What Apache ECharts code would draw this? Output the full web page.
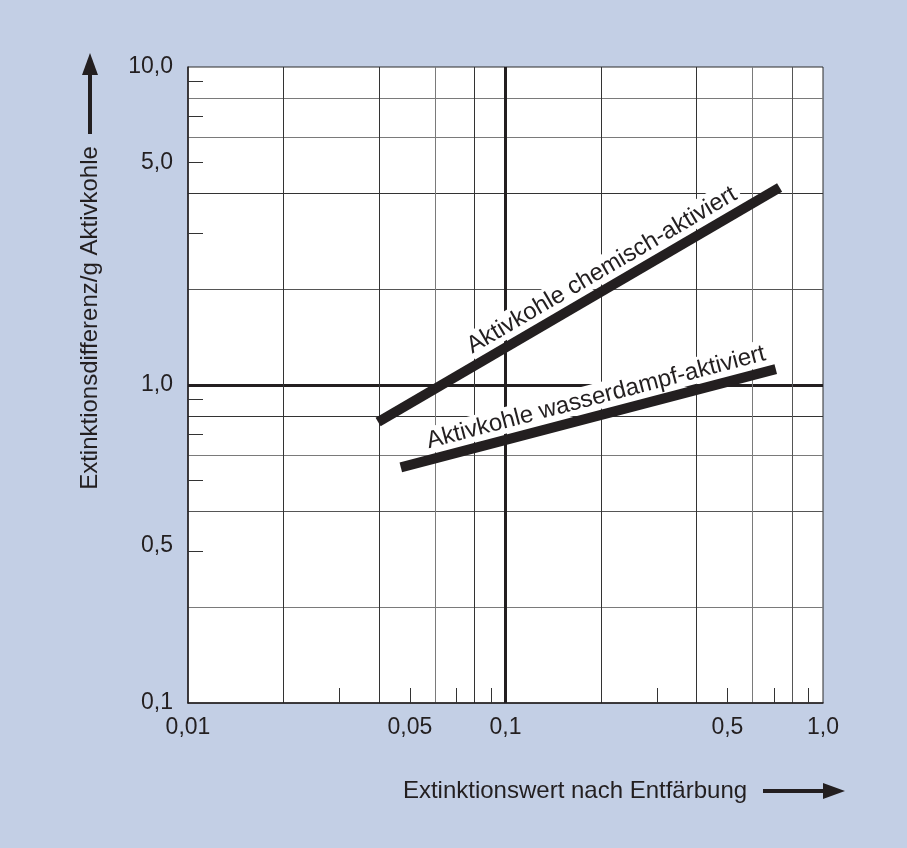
<!DOCTYPE html>
<html><head><meta charset="utf-8">
<script src="https://cdn.jsdelivr.net/npm/echarts@6/dist/echarts.min.js"></script>
<style>html,body{margin:0;padding:0;background:#c3cfe5}#c{width:907px;height:848px}</style>
</head><body><div id="c"></div>
<script>
// ---- data ----
const xGridValues  = [0.02, 0.04, 0.06, 0.08, 0.2, 0.4, 0.6, 0.8];
const xMinorTicks  = [0.03, 0.05, 0.07, 0.09, 0.3, 0.5, 0.7, 0.9];
const xLabelValues = [0.01, 0.05, 0.1, 0.5, 1];
const xTickLabels  = ['0,01', '0,05', '0,1', '0,5', '1,0'];
const yGridValues  = [0.2, 0.4, 0.6, 0.8, 2, 4, 6, 8];
const yMinorTicks  = [0.3, 0.5, 0.7, 0.9, 3, 5, 7, 9];
const yLabelValues = [0.1, 0.5, 1, 5, 10];
const yTickLabels  = ['0,1', '0,5', '1,0', '5,0', '10,0'];
const seriesNames  = ['Aktivkohle chemisch-aktiviert', 'Aktivkohle wasserdampf-aktiviert'];
const chemischX    = [0.0397, 0.730];
const chemischY    = [0.765, 4.18];
const wasserX      = [0.0468, 0.710];
const wasserY      = [0.551, 1.122];
const xTitle = 'Extinktionswert nach Entfärbung';
const yTitle = 'Extinktionsdifferenz/g Aktivkohle';

// ---- styling ----
const INK = '#231f20';
const FONT = 'Liberation Sans, Arial, Helvetica, sans-serif';
const DARK = '#333333', GREY = '#7a7a7a';

function lookup(vals, labels, v) {
  let best = 0, d = Infinity;
  vals.forEach((x, i) => { const dd = Math.abs(Math.log10(x) - Math.log10(v)); if (dd < d) { d = dd; best = i; } });
  return labels[best];
}
function lerpLog(a, b, t) { return Math.pow(10, Math.log10(a) + (Math.log10(b) - Math.log10(a)) * t); }
function textSegment(xs, ys, t0, t1, name) {
  return [[{ name: name, coord: [lerpLog(xs[0], xs[1], t0), lerpLog(ys[0], ys[1], t0)] },
           { coord: [lerpLog(xs[0], xs[1], t1), lerpLog(ys[0], ys[1], t1)] }]];
}
function textLabel(text) {
  return {
    show: true, position: 'insideMiddleTop', distance: 6, formatter: text,
    color: INK, fontFamily: FONT, fontSize: 24, opacity: 1,
    backgroundColor: '#fff', padding: [2, 4, 0, 4]
  };
}

const logAxisBase = { type: 'log', logBase: 10, gridIndex: 0 };

const chart = echarts.init(document.getElementById('c'), null, { renderer: 'canvas' });
chart.setOption({
  backgroundColor: '#c3cfe5',
  animation: false,
  grid: { left: 188, right: 84, top: 67, bottom: 145, show: true, backgroundColor: '#fff', borderColor: '#2b2b2b', borderWidth: 1 },
  xAxis: [
    Object.assign({}, logAxisBase, {
      min: xLabelValues[0], max: xLabelValues[xLabelValues.length - 1], position: 'bottom',
      axisLine: { show: true, lineStyle: { color: INK, width: 1.5 } },
      axisTick: { show: false, customValues: xGridValues },
      splitLine: { show: true, lineStyle: { color: [DARK, DARK, GREY, DARK, DARK, DARK, GREY, '#555'], width: 1 } },
      axisLabel: { customValues: xLabelValues, margin: 13, color: INK, fontFamily: FONT, fontSize: 23,
        formatter: v => lookup(xLabelValues, xTickLabels, v) }
    }),
    Object.assign({}, logAxisBase, {
      min: xLabelValues[0], max: xLabelValues[xLabelValues.length - 1], position: 'bottom',
      axisLine: { show: false },
      axisTick: { show: true, inside: true, length: 15, customValues: xMinorTicks, lineStyle: { color: DARK, width: 1 } },
      axisLabel: { show: false }, splitLine: { show: false }
    }),
    Object.assign({}, logAxisBase, {
      min: xLabelValues[0], max: xLabelValues[xLabelValues.length - 1], position: 'bottom',
      axisLine: { show: false }, axisLabel: { show: false },
      axisTick: { show: false, customValues: [xLabelValues[2]] },
      splitLine: { show: true, lineStyle: { color: INK, width: 3 } }
    })
  ],
  yAxis: [
    Object.assign({}, logAxisBase, {
      min: yLabelValues[0], max: yLabelValues[yLabelValues.length - 1], position: 'left',
      axisLine: { show: true, lineStyle: { color: INK, width: 1.5 } },
      axisTick: { show: false, customValues: yGridValues },
      splitLine: { show: true, lineStyle: { color: [GREY, '#555', GREY, DARK, '#555', DARK, GREY, GREY], width: 1 } },
      axisLabel: { customValues: yLabelValues, margin: 15, color: INK, fontFamily: FONT, fontSize: 23,
        formatter: v => { const s = lookup(yLabelValues, yTickLabels, v); return s === '0,5' ? '{low|' + s + '}' : s; },
        rich: { low: { padding: [130, 0, 0, 0], color: INK, fontFamily: FONT, fontSize: 23 } } }
    }),
    Object.assign({}, logAxisBase, {
      min: yLabelValues[0], max: yLabelValues[yLabelValues.length - 1], position: 'left',
      axisLine: { show: false },
      axisTick: { show: true, inside: true, length: 15, customValues: yMinorTicks, lineStyle: { color: DARK, width: 1 } },
      axisLabel: { show: false }, splitLine: { show: false }
    }),
    Object.assign({}, logAxisBase, {
      min: yLabelValues[0], max: yLabelValues[yLabelValues.length - 1], position: 'left',
      axisLine: { show: false }, axisLabel: { show: false },
      axisTick: { show: false, customValues: [yLabelValues[2]] },
      splitLine: { show: true, lineStyle: { color: INK, width: 3 } }
    })
  ],
  series: [
    {
      name: seriesNames[0], type: 'line', xAxisIndex: 0, yAxisIndex: 0,
      data: chemischX.map((x, i) => [x, chemischY[i]]),
      symbol: 'none', lineStyle: { color: INK, width: 10, cap: 'butt' },
      markLine: { silent: true, symbol: ['none', 'none'], animation: false,
        lineStyle: { color: 'rgba(255,255,255,0)', width: 1, type: 'solid' },
        label: textLabel(seriesNames[0]),
        data: textSegment(chemischX, chemischY, 0.16, 1.0, seriesNames[0]) }
    },
    {
      name: seriesNames[1], type: 'line', xAxisIndex: 0, yAxisIndex: 0,
      data: wasserX.map((x, i) => [x, wasserY[i]]),
      symbol: 'none', lineStyle: { color: INK, width: 10, cap: 'butt' },
      markLine: { silent: true, symbol: ['none', 'none'], animation: false,
        lineStyle: { color: 'rgba(255,255,255,0)', width: 1, type: 'solid' },
        label: textLabel(seriesNames[1]),
        data: textSegment(wasserX, wasserY, 0.066, 1.0, seriesNames[1]) }
    }
  ],
  graphic: [
    { type: 'text', x: 90, y: 318, rotation: Math.PI / 2,
      style: { text: yTitle, fill: INK, font: '24px ' + FONT, align: 'center', verticalAlign: 'middle' } },
    { type: 'line', shape: { x1: 90, y1: 134, x2: 90, y2: 70 }, style: { stroke: INK, lineWidth: 4 } },
    { type: 'polygon', shape: { points: [[90, 53], [82, 75], [98, 75]] }, style: { fill: INK } },
    { type: 'text', x: 575, y: 791,
      style: { text: xTitle, fill: INK, font: '24px ' + FONT, align: 'center', verticalAlign: 'middle' } },
    { type: 'line', shape: { x1: 763, y1: 791, x2: 828, y2: 791 }, style: { stroke: INK, lineWidth: 4 } },
    { type: 'polygon', shape: { points: [[845, 791], [823, 783], [823, 799]] }, style: { fill: INK } }
  ]
});
</script>
</body></html>
